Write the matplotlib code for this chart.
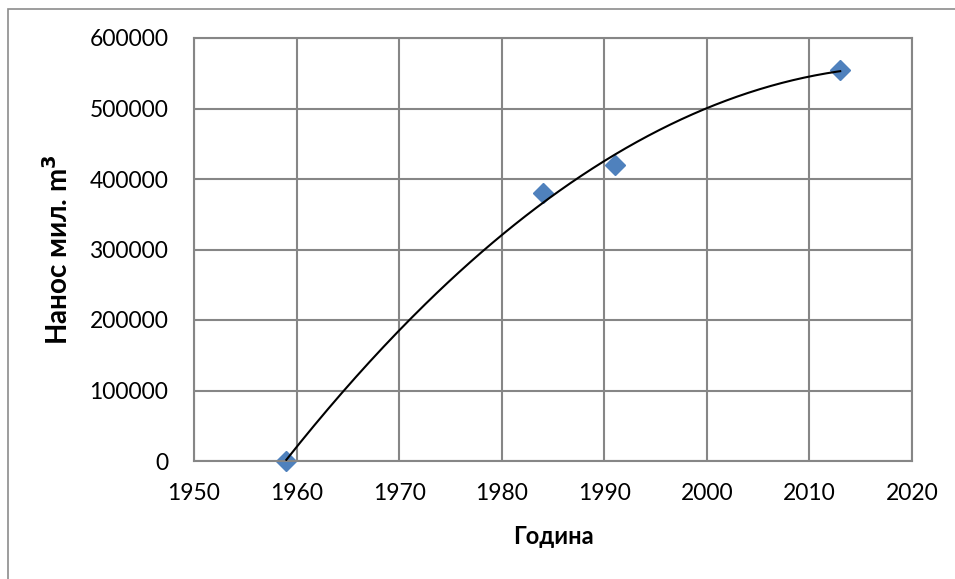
import matplotlib.pyplot as plt
import numpy as np
from matplotlib.patches import Rectangle

years = [1959, 1984, 1991, 2013]
nanos = [0, 380000, 420000, 555000]

plt.rcParams['font.family'] = ['Lato', 'DejaVu Sans']

fig = plt.figure(figsize=(9.55, 5.79), dpi=100)
ax = fig.add_axes([194 / 955, 1 - 461 / 579, 718 / 955, 423 / 579])

# outer chart frame (cropped at right/bottom)
fig.patches.append(Rectangle((8 / 955, -0.1), 1.2, 1 - 9 / 579 + 0.1,
                             transform=fig.transFigure, fill=False,
                             edgecolor='#8c8c8c', linewidth=1.2))

# 2nd order polynomial trendline
coef = np.polyfit(years, nanos, 2)
xs = np.linspace(min(years), max(years), 200)
ax.plot(xs, np.polyval(coef, xs), color='black', linewidth=1.5, zorder=3)

ax.plot(years, nanos, linestyle='none', marker='D', markersize=10,
        color='#4f81bd', zorder=2, clip_on=False)

ax.set_xlim(1950, 2020)
ax.set_ylim(0, 600000)
ax.set_xticks(range(1950, 2021, 10))
ax.set_yticks(range(0, 600001, 100000))
ax.grid(True, color='#868686', linewidth=1.5)
ax.set_axisbelow(True)
for s in ax.spines.values():
    s.set_color('#868686')
    s.set_linewidth(1.5)
ax.tick_params(length=0, labelsize=16.5)
ax.tick_params(axis='x', pad=16)
ax.tick_params(axis='y', pad=18.5)

ax.set_xlabel('Година', fontsize=17, fontweight='bold')
ax.set_ylabel('Нанос мил. m$^\\mathbf{3}$', fontsize=20, fontweight='bold')
ax.xaxis.set_label_coords(0.5, -0.152)
ax.yaxis.set_label_coords(-0.168, 0.5)

fig.savefig('out.png', dpi=100)
